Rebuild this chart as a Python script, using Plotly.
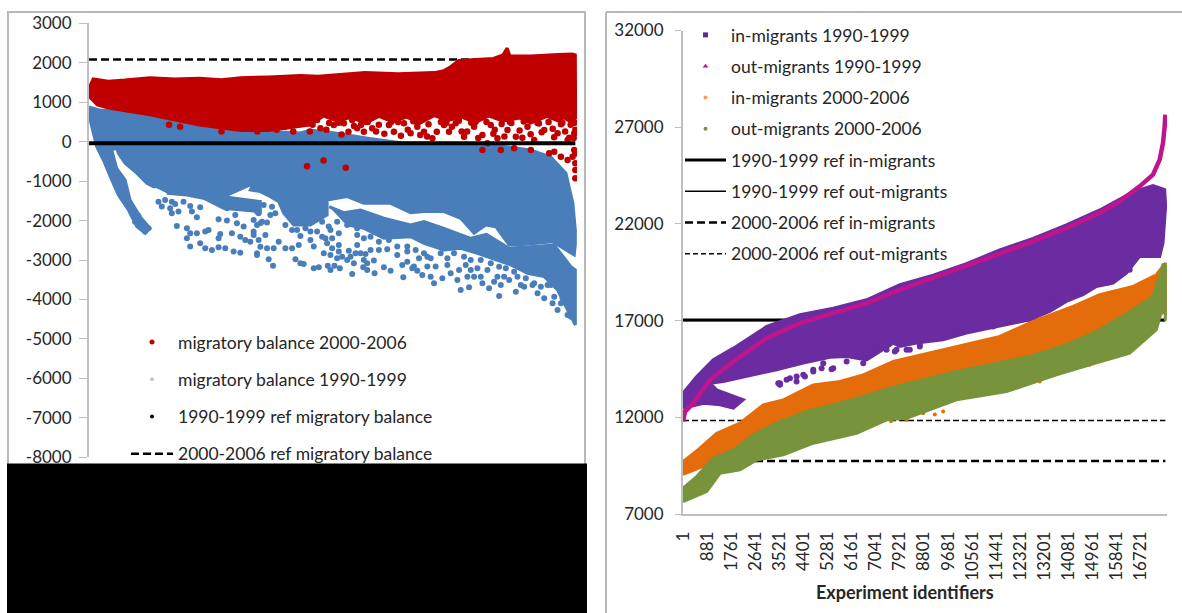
import plotly.graph_objects as go

# ---------- left panel: migratory balance ----------
bal_tick_vals = [3000, 2000, 1000, 0, -1000, -2000, -3000, -4000, -5000, -6000, -7000, -8000]
bal_tick_text = ["3000", "2000", "1000", "0", "-1000", "-2000", "-3000", "-4000", "-5000", "-6000", "-7000", "-8000"]
ref_span = [1, 17620]
ref_balance_9099 = [-40, -40]
ref_balance_0006 = [2080, 2080]

red_band_id = [0, 60, 150, 700, 1300, 2200, 3100, 4000, 4800, 5500, 6500, 7660, 8300, 9000, 10000, 11200, 12500, 12860, 13100, 13400, 13800, 14650, 15000, 15150, 15250, 16000, 17000, 17500, 17620,
               17630, 17500, 17200, 17000, 16600, 16000, 15600, 15000, 14500, 14000, 13500, 13000, 12500, 12000, 11500, 11000, 10500, 10000, 9500, 9000, 8500, 8000, 7400, 6500, 5500, 4000, 2200, 700, 300, 60, 0]
red_band_val = [1250, 1450, 1590, 1530, 1560, 1620, 1590, 1610, 1570, 1620, 1640, 1680, 1660, 1700, 1750, 1720, 1750, 1800, 1900, 2060, 2080, 2110, 2200, 2370, 2170, 2170, 2210, 2220, 2200,
                600, 480, 610, 520, 640, 470, 600, 520, 650, 480, 620, 540, 660, 470, 620, 500, 640, 460, 620, 520, 650, 420, 360, 280, 280, 420, 680, 850, 930, 1100, 1150]
red_pts_id = [7840, 8264, 8385, 8869, 9232, 9535, 9716, 9958, 10260, 10866, 11047, 11410, 11652, 11894, 12136, 12439, 12862, 13043, 13285, 13588,
              13951, 14253, 14556, 14798, 15161, 15464, 15887, 16129, 16492, 16976, 17339, 17581, 14253, 14919, 15403, 16008, 16673, 17097, 17339,
              17620, 17620, 17620, 17520, 16855, 14435, 17581, 17620, 17500, 17400, 17620, 5900, 6100, 6400, 6800, 7100, 7400,
              2900, 3300, 4800, 7900, 8500, 9300,
              8100, 8600, 9050, 9400, 9850, 10100, 10500, 10700, 11200, 11550, 11750, 12000, 12300, 12600, 12750, 13150, 13400, 13700, 13850, 14100,
              14400, 14700, 14950, 15050, 15300, 15600, 15750, 16000, 16300, 16400, 16650, 16850, 17150, 17250, 17450, 17560,
              8000, 8700, 9150, 9600, 10400, 10950, 11300, 11900, 12250, 12950, 13500, 14000, 14650, 15250, 15700, 16250, 16800, 17100, 17600]
red_pts_val = [508, 550, 339, 423, 465, 550, 339, 254, 339, 423, 254, 465, 212, 381, 254, 85, 423, 254, 465, 127,
               381, 170, 423, 85, 296, 127, 381, 43, 296, 212, 43, 212, -211, -211, -168, -211, -295, -380, -464,
               -548, -718, -929, -380, -253, -42, -211, 300, 480, 100, -300, 330, 260, 360, 300, 380, 260,
               430, 380, 260, -620, -480, -660,
               430, 300, 480, 250, 420, 500, 430, 200, 500, 300, 520, 170, 440, 250, 500, 380, 530, 260, 480, 90,
               500, 300, 450, 130, 470, 280, 510, 190, 460, 240, 500, 110, 480, 260, 430, 90,
               260, 470, 180, 400, 260, 500, 150, 470, 130, 470, 260, 500, 200, 500, 100, 470, 330, 440, 480]

blue_main_id = [0, 400, 2214, 4030, 5480, 7660, 8020, 8900, 10100, 11300, 13100, 14900, 16000, 16730, 17280, 17530, 17620, 17620, 17581,
                16795, 15524, 15222, 14738, 14375, 13951, 13467, 12862, 12136, 11652, 10926, 9958, 9353, 8627, 8627, 8022, 7417, 7054, 6873, 6570, 6207, 5844, 5965,
                4876, 4271, 3666, 2940, 2335, 2093, 1730, 1307, 1064, 1004, 822, 1004, 1307, 1488, 1851, 2214, 2033, 1730, 1428, 1064, 822, 520, 278, 60, 0]
blue_main_val = [880, 800, 680, 420, 290, 220, 295, 220, 90, -30, -40, -110, -210, -390, -800, -1560, -2240, -2600, -2872,
                 -2534, -2618, -2618, -2154, -2111, -2322, -1942, -1773, -1773, -1799, -1562, -1562, -1393, -1478, -1858, -2111, -2111, -1816, -1520, -1393, -1266, -1224, -1055,
                 -1393, -1308, -1140, -1097, -1140, -1055, -800, -548, -294, -168, -210, -675, -970, -1477, -1900, -2196, -2323, -2153, -1731, -1351, -970, -464, -126, 500, 800]
blue_second_id = [8700, 9232, 9837, 10684, 11652, 12136, 12862, 13830, 14400, 15222, 16855, 17460, 17620, 17620, 17620, 17339, 16976, 16492, 15887, 15282, 14798, 14072,
                  13467, 12862, 12136, 11652, 10684, 9958, 9300]
blue_second_val = [-1650, -1800, -1731, -1942, -2111, -2027, -2196, -2449, -2350, -2703, -2618, -3167, -3252, -4097, -4646, -4266, -3759, -3421, -3337, -3125, -2999, -2830,
                   -2703, -2745, -2576, -2407, -2449, -2196, -2100]
blue_third_id = [2335, 3666, 4876, 6207, 6207, 5481, 4876, 4150, 3545, 2819]
blue_third_val = [-1140, -1097, -1393, -1520, -1773, -1731, -1689, -1435, -1351, -1308]
blue_pts_id = [1186, 1246, 1367, 1428, 1549, 1609, 1790, 1670, 1851, 2033, 2154, 2033, 1912, 1064,
               2516, 2758, 3000, 2638, 2940, 3121, 3000, 3243, 3424, 3666, 3727, 3908, 4029, 3182, 3545, 3666, 3545, 3908, 4211, 4331, 4755, 4695, 5178, 5481, 5663,
               3666, 4029, 4211, 4453, 4695, 4937, 5239, 5481, 4695, 4998, 4998, 5300, 5360, 5602, 5965, 6086, 6086, 5965, 6086, 6146, 5844,
               5965, 6389, 6207, 6449, 6691, 6873, 7115, 7357, 7598, 6086, 6509, 6667, 7478, 7659, 7780, 8143, 8325, 8651, 8748, 8893, 9087, 9534, 9934, 10079,
               10345, 10684, 10926, 11386, 11712, 11894, 11350, 8143, 8446, 8627, 8808, 9051, 9353, 9595, 9413, 9716, 9837, 10019, 10200, 10321, 10503, 10805,
               11168, 11531, 11834, 11531, 7659, 7841, 8022, 8748, 9051, 9716, 6268, 6449, 6751, 7115, 7357, 6146,
               11955, 12257, 11773, 12076, 12378, 12499, 12802, 12983, 13104, 13407, 13346, 13467, 13770, 13709, 13951, 14254, 14494, 14859, 14919, 14798, 14435,
               14072, 13649, 15222, 15464, 15645, 15826, 16069, 16250, 16613, 16492, 16795, 16976, 17339, 17157, 15403, 15100, 12559, 12257,
               5965, 6328, 6630, 5965, 6207, 6570, 8687, 8990, 9353, 9716, 8446, 7538, 8022, 8264, 8566, 8808, 9051, 9656, 9958, 8506, 8748, 8990, 9171, 9474, 10079,
               11531, 11168, 10865, 10503, 10200, 9958,
               12136, 12378, 12741, 12983, 13225, 13588, 13830, 14193, 14556, 14859, 13830, 14193, 14677, 15040, 15524, 15766, 16129, 16371, 16734, 16855, 17097, 17339, 17460]
blue_pts_val = [-1266, -1351, -1435, -1646, -1773, -1815, -1883, -2027, -2111, -2153, -2196, -2280, -2153, -1097,
                -1520, -1477, -1520, -1646, -1689, -1579, -1815, -1773, -1520, -1630, -1773, -1917, -1663, -2137, -2196, -2323, -2449, -2323, -2280, -2238, -2339, -2449, -2323, -2407, -2491,
                -2660, -2576, -2703, -2745, -2677, -2703, -2787, -2813, -1968, -2001, -1689, -1858, -2069, -2153, -2280, -2111, -1773, -1604, -2829, -2491, -2534,
                -2365, -2365, -2661, -2703, -2703, -2534, -2703, -2703, -2618, -2872, -2982, -3142, -2982, -3083, -3100, -3210, -3184, -3142, -3252, -3142, -3210, -3353, -3184, -3252,
                -3337, -3184, -3269, -3438, -3210, -3269, -3125, -2660, -2407, -2576, -2703, -2787, -2998, -3083, -2762, -2618, -2830, -2846, -2745, -3015, -2745, -2728,
                -2872, -2787, -2745, -3041, -2390, -2196, -2492, -2238, -2322, -2365, -2027, -2052, -1816, -2111, -2238, -1816,
                -2956, -2914, -3167, -3379, -3421, -3590, -3463, -3125, -3337, -3252, -3505, -3759, -3691, -3421, -3421, -3590, -3717, -3911, -3632, -3421, -3252,
                -3210, -3125, -3505, -3801, -3632, -3463, -3632, -3843, -3632, -3970, -4097, -4266, -4393, -3970, -3294, -3210, -3167, -3167,
                -1647, -1604, -1647, -1985, -2069, -1858, -2153, -2027, -2111, -2196, -2027, -2238, -2280, -2280, -2449, -2449, -2618, -2830, -2998, -2830, -2872, -2956, -2914, -2914, -3083,
                -2660, -2660, -2491, -2534, -2407, -2449,
                -2830, -2956, -2830, -2956, -2830, -2914, -2998, -2998, -3083, -3168, -3252, -3421, -3548, -3421, -3421, -3675, -3590, -3675, -3632, -3928, -4097, -4097, -4435]

# ---------- right panel: in- and out-migrants ----------
mig_tick_vals = [7000, 12000, 17000, 22000, 27000, 32000]
mig_tick_text = ["7000", "12000", "17000", "22000", "27000", "32000"]
exp_tick_vals = [1, 881, 1761, 2641, 3521, 4401, 5281, 6161, 7041, 7921, 8801, 9681, 10561, 11441, 12321, 13201, 14081, 14961, 15841, 16721]
exp_tick_text = ["1", "881", "1761", "2641", "3521", "4401", "5281", "6161", "7041", "7921", "8801", "9681", "10561", "11441", "12321", "13201", "14081", "14961", "15841", "16721"]
ref_in_9099 = [17030, 17030]
ref_out_9099 = [17000, 17000]
ref_in_0006 = [9740, 9740]
ref_out_0006 = [11830, 11830]

purple_id = [0, 500, 1108, 1838, 3055, 4272, 5489, 6706, 7923, 9137, 10354, 11571, 12788, 14005, 15222, 16439, 17169, 17595, 17630, 17534, 17413,
             16682, 16196, 15709, 15100, 14613, 14005, 13397, 12666, 11449, 10354, 9502, 8528, 7920, 7680, 6706, 5976, 5367, 4393, 3419, 2324, 1472, 985,
             1230, 2203, 1838, 1350, 743, 0]
purple_val = [13247, 14110, 14972, 15576, 16697, 17300, 17646, 18077, 18853, 19350, 19950, 20650, 21250, 21950, 22720, 23650, 23977, 23770, 22908, 21010, 20320,
              20320, 19458, 18940, 18768, 18337, 17992, 17474, 17043, 16698, 16353, 16008, 15835, 15663, 15835, 14972, 15144, 15100, 14800, 14455, 14110, 13851, 13765,
              13420, 12902, 12470, 12643, 12730, 12470]
purple_pts_id = [3541, 3906, 4149, 4454, 4758, 5123, 5488, 6644, 7070, 7496, 8166, 7800, 8652, 3481, 8285, 8650, 9502, 9989, 10597, 11327, 13031, 13518, 14370, 15465, 16317,
                 3542, 3785, 4150, 4394, 4759, 5063, 5428, 5976, 6584, 6098, 6645, 7071, 7436, 7740]
purple_pts_val = [13679, 14024, 13851, 14110, 14369, 14800, 14541, 15059, 15490, 15749, 15490, 15490, 15749, 13764, 15490, 15663, 16353, 16525, 16698, 16698, 17733, 18078, 18423, 18940, 19630,
                  13765, 13937, 14110, 14196, 14455, 14541, 14489, 14886, 14800, 15317, 16007, 15489, 15489, 15403]

magenta_id = [1, 73, 378, 986, 1838, 3055, 4272, 5489, 6706, 7923, 9137, 10354, 11571, 12788, 14005, 15222, 15952, 16682, 17169, 17413, 17534, 17595, 17620]
magenta_val = [11780, 12298, 12730, 13937, 14886, 16093, 16870, 17387, 17905, 18595, 19200, 19803, 20458, 21097, 21787, 22563, 23167, 23943, 24547, 25323, 26186, 27048, 27652]

orange_id = [0, 620, 1230, 2080, 2933, 3664, 4759, 5732, 6584, 7680, 9745, 11571, 12788, 14248, 15222, 16439, 17291, 17620,
             17620, 16000, 12000, 8000, 5000, 2000, 620, 0]
orange_val = [9710, 10400, 11177, 11694, 12643, 12902, 13678, 13851, 14196, 14886, 15577, 16180, 16957, 17733, 18337, 18768, 19372, 19975,
              17500, 16000, 14700, 13000, 12000, 10500, 9400, 9055]
orange_pts_id = [9502, 8772, 8163, 14857, 13031, 9200, 7900, 7600]
orange_pts_val = [12298, 12211, 11866, 14713, 13850, 12150, 11950, 11800]

green_id = [0, 500, 1108, 1838, 2568, 3420, 4515, 5489, 6584, 7680, 9989, 12666, 14005, 15222, 16439, 17169, 17535, 17620,
            17620, 17595, 17291, 16317, 14857, 13640, 11815, 9989, 8163, 7436, 6341, 4759, 3664, 2689, 2080, 1351, 864, 0]
green_val = [8330, 8934, 9883, 10314, 11090, 11694, 12298, 12643, 13074, 13557, 14368, 15150, 15749, 16525, 17560, 18250, 19889, 19900,
             17000, 18078, 16525, 15318, 14713, 14195, 13333, 12900, 11953, 11867, 11177, 10660, 10056, 9797, 9280, 9107, 8158, 7641]

W, H = 1182, 613
TXT = "#262626"
AXC = "#bfbfbf"
FONT = "Lato, Carlito, sans-serif"
fig = go.Figure()


def band(ids, vals, color, ax):
    fig.add_trace(go.Scatter(x=ids, y=vals, mode="lines", fill="toself", fillcolor=color,
                             line=dict(color=color, width=3), hoverinfo="skip", showlegend=False,
                             xaxis="x" + ax, yaxis="y" + ax))


def pts(ids, vals, color, ax, size=6):
    fig.add_trace(go.Scatter(x=ids, y=vals, mode="markers", marker=dict(color=color, size=size),
                             hoverinfo="skip", showlegend=False, xaxis="x" + ax, yaxis="y" + ax))


def ref(vals, width, dash, ax):
    fig.add_trace(go.Scatter(x=ref_span, y=vals, mode="lines", line=dict(color="black", width=width, dash=dash),
                             hoverinfo="skip", showlegend=False, xaxis="x" + ax, yaxis="y" + ax))


def key(name, ax, legend, **kw):
    fig.add_trace(go.Scatter(x=[None], y=[None], name=name, legend=legend, legendgroup=name,
                             xaxis="x" + ax, yaxis="y" + ax, **kw))


# left panel
ref(ref_balance_0006, 2.5, "8px,4px", "")
BLUE, RED = "#4a7ebb", "#c00000"
band(blue_main_id, blue_main_val, BLUE, "")
band(blue_second_id, blue_second_val, BLUE, "")
band(blue_third_id, blue_third_val, BLUE, "")
pts(blue_pts_id, blue_pts_val, BLUE, "")
band(red_band_id, red_band_val, RED, "")
pts(red_pts_id, red_pts_val, RED, "", 6.5)
ref(ref_balance_9099, 4, "solid", "")
key("migratory balance 2000-2006", "", "legend", mode="markers", marker=dict(color=RED, size=5))
key("migratory balance 1990-1999", "", "legend", mode="markers", marker=dict(color="#c8c8c8", size=4))
key("1990-1999 ref migratory balance", "", "legend", mode="markers", marker=dict(color="black", size=4))
key("2000-2006 ref migratory balance", "", "legend", mode="lines", line=dict(color="black", width=2.5, dash="8px,4px"))

# right panel
ref(ref_in_9099, 3, "solid", "2")
ref(ref_out_9099, 1.5, "solid", "2")
ref(ref_out_0006, 1.5, "6px,3px", "2")
ref(ref_in_0006, 2.5, "8px,4px", "2")
PUR, MAG, ORA, GRN = "#6a2ca0", "#c0148c", "#e46c0a", "#77933c"
band(purple_id, purple_val, PUR, "2")
pts(purple_pts_id, purple_pts_val, PUR, "2", 6)
fig.add_trace(go.Scatter(x=magenta_id, y=magenta_val, mode="lines", line=dict(color=MAG, width=4.5), hoverinfo="skip",
                         showlegend=False, xaxis="x2", yaxis="y2"))
band(orange_id, orange_val, ORA, "2")
pts(orange_pts_id, orange_pts_val, ORA, "2", 4)
band(green_id, green_val, GRN, "2")
key("in-migrants 1990-1999", "2", "legend2", mode="markers", marker=dict(color="#5b2a9a", size=5, symbol="square"))
key("out-migrants 1990-1999", "2", "legend2", mode="markers", marker=dict(color=MAG, size=5, symbol="triangle-up"))
key("in-migrants 2000-2006", "2", "legend2", mode="markers", marker=dict(color="#f0a060", size=4))
key("out-migrants 2000-2006", "2", "legend2", mode="markers", marker=dict(color=GRN, size=4))
key("1990-1999 ref in-migrants", "2", "legend2", mode="lines", line=dict(color="black", width=3))
key("1990-1999 ref out-migrants", "2", "legend2", mode="lines", line=dict(color="black", width=1.5))
key("2000-2006 ref in-migrants", "2", "legend2", mode="lines", line=dict(color="black", width=2.5, dash="8px,4px"))
key("2000-2006 ref out-migrants", "2", "legend2", mode="lines", line=dict(color="black", width=1.5, dash="5px,3px"))

legend_common = dict(bgcolor="rgba(0,0,0,0)", borderwidth=0, xanchor="left", yanchor="top",
                     itemsizing="trace", itemclick=False, traceorder="grouped",
                     font=dict(family=FONT, size=17.5, color=TXT))
frame = dict(color="#b9b9b9", width=2)
fig.update_layout(
    width=W, height=H, margin=dict(l=0, r=0, t=0, b=0, autoexpand=False), autosize=False,
    paper_bgcolor="white", plot_bgcolor="rgba(0,0,0,0)",
    font=dict(family=FONT, color=TXT, size=17),
    legend=dict(x=126 / W, y=1 - 324 / H, itemwidth=42, tracegroupgap=11.5, **legend_common),
    legend2=dict(x=680 / W, y=1 - 17 / H, itemwidth=41, tracegroupgap=5.5, **legend_common),
    xaxis=dict(domain=[89 / W, 577 / W], range=[0, 17680], visible=False),
    yaxis=dict(domain=[1 - 457.3 / H, 1 - 23.3 / H], range=[-8000, 3000], tickmode="array", tickvals=bal_tick_vals,
               ticktext=bal_tick_text, showgrid=False, zeroline=False, showline=True, linecolor=AXC, linewidth=2,
               ticks="outside", ticklen=8, tickcolor=AXC, ticklabelstandoff=4, anchor="x"),
    xaxis2=dict(domain=[683 / W, 1167 / W], range=[0, 17680], tickmode="array", tickvals=exp_tick_vals,
                ticktext=exp_tick_text, tickangle=-90, showgrid=False, zeroline=False, showline=True, linecolor=AXC,
                linewidth=1.5, ticks="", ticklabelstandoff=9, anchor="y2", automargin=False),
    yaxis2=dict(domain=[1 - 514 / H, 1 - 30.5 / H], range=[7000, 32000], tickmode="array", tickvals=mig_tick_vals,
                ticktext=mig_tick_text, showgrid=False, zeroline=False, showline=True, linecolor=AXC, linewidth=2,
                ticks="outside", ticklen=6, tickcolor=AXC, ticklabelstandoff=8, anchor="x2"),
    annotations=[dict(text="<b>Experiment identifiers</b>", xref="paper", yref="paper", x=905 / W, y=1 - 592 / H,
                      xanchor="center", yanchor="middle", showarrow=False, font=dict(family=FONT, size=18, color=TXT))],
    shapes=[
        dict(type="rect", xref="paper", yref="paper", x0=8 / W, x1=585 / W, y0=1 - 480 / H, y1=1 - 12 / H, line=frame, layer="below"),
        dict(type="line", xref="paper", yref="paper", x0=606 / W, x1=1182 / W, y0=1 - 12 / H, y1=1 - 12 / H, line=frame, layer="below"),
        dict(type="line", xref="paper", yref="paper", x0=606 / W, x1=606 / W, y0=1 - 12 / H, y1=0, line=frame, layer="below"),
        dict(type="rect", xref="paper", yref="paper", x0=7 / W, x1=587 / W, y0=0, y1=1 - 463.5 / H, line=dict(width=0), fillcolor="black", layer="above"),
    ],
)
fig.write_html("out.html", config=dict(displayModeBar=False, responsive=False),
               post_script="document.body.style.margin='0';document.documentElement.style.overflow='hidden';")
